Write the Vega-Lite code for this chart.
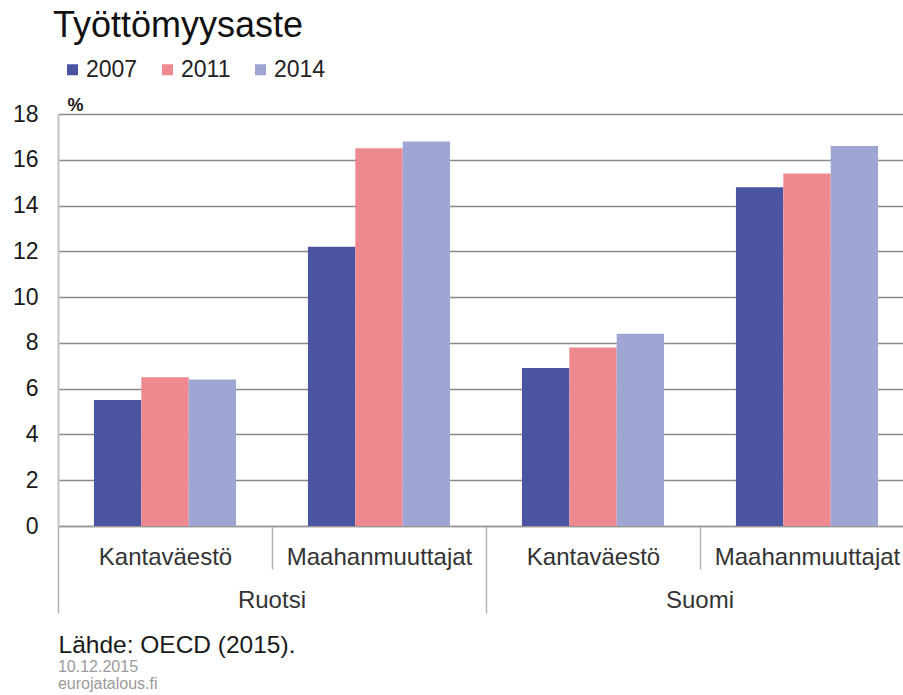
{
  "$schema": "https://vega.github.io/schema/vega-lite/v6.json",
  "width": 845,
  "height": 412,
  "autosize": {"type": "none"},
  "padding": {"left": 58, "top": 114, "right": 0, "bottom": 169},
  "background": "white",
  "title": {
    "text": "Työttömyysaste",
    "anchor": "start",
    "frame": "group",
    "fontSize": 36,
    "fontWeight": "normal",
    "color": "#111111",
    "font": "Liberation Sans",
    "dx": -5,
    "offset": 13
  },
  "config": {
    "font": "Liberation Sans",
    "view": {"stroke": null}
  },
  "encoding": {
    "x": {
      "field": "key",
      "type": "nominal",
      "scale": {
        "domain": ["Ruotsi|Kantaväestö", "Ruotsi|Maahanmuuttajat", "Suomi|Kantaväestö", "Suomi|Maahanmuuttajat"],
        "range": [0, 856],
        "paddingInner": 0.336,
        "paddingOuter": 0.168
      },
      "axis": {
        "title": "Lähde: OECD (2015).",
        "titleX": 0,
        "titleY": 126,
        "titleAnchor": "start",
        "titleAlign": "left",
        "titleBaseline": "alphabetic",
        "titleFontSize": 24.5,
        "titleFontWeight": "normal",
        "titleColor": "#1a1a1a",
        "labelExpr": "split(datum.label, '|')[1]",
        "labelAngle": 0,
        "labelFontSize": 24,
        "labelLimit": 400,
        "labelColor": "#333333",
        "labelBaseline": "alphabetic",
        "labelPadding": {"condition": {"test": "indexof(datum.value, 'Kantav') >= 0", "value": -49}, "value": -5},
        "tickSize": {"condition": {"test": "indexof(datum.value, 'Kantav') >= 0", "value": 87}, "value": 43},
        "tickColor": "#b4b4b4",
        "tickWidth": 1.5,
        "tickOffset": -107,
        "labelOffset": 107,
        "domainColor": "#9a9a9a",
        "domainWidth": 1.5,
        "grid": false
      }
    }
  },
  "layer": [
    {
      "data": {
        "values": [
          {"maa": "Ruotsi", "ryhma": "Kantaväestö", "key": "Ruotsi|Kantaväestö", "vuosi": "2007", "arvo": 5.5},
          {"maa": "Ruotsi", "ryhma": "Kantaväestö", "key": "Ruotsi|Kantaväestö", "vuosi": "2011", "arvo": 6.5},
          {"maa": "Ruotsi", "ryhma": "Kantaväestö", "key": "Ruotsi|Kantaväestö", "vuosi": "2014", "arvo": 6.4},
          {"maa": "Ruotsi", "ryhma": "Maahanmuuttajat", "key": "Ruotsi|Maahanmuuttajat", "vuosi": "2007", "arvo": 12.2},
          {"maa": "Ruotsi", "ryhma": "Maahanmuuttajat", "key": "Ruotsi|Maahanmuuttajat", "vuosi": "2011", "arvo": 16.5},
          {"maa": "Ruotsi", "ryhma": "Maahanmuuttajat", "key": "Ruotsi|Maahanmuuttajat", "vuosi": "2014", "arvo": 16.8},
          {"maa": "Suomi", "ryhma": "Kantaväestö", "key": "Suomi|Kantaväestö", "vuosi": "2007", "arvo": 6.9},
          {"maa": "Suomi", "ryhma": "Kantaväestö", "key": "Suomi|Kantaväestö", "vuosi": "2011", "arvo": 7.8},
          {"maa": "Suomi", "ryhma": "Kantaväestö", "key": "Suomi|Kantaväestö", "vuosi": "2014", "arvo": 8.4},
          {"maa": "Suomi", "ryhma": "Maahanmuuttajat", "key": "Suomi|Maahanmuuttajat", "vuosi": "2007", "arvo": 14.8},
          {"maa": "Suomi", "ryhma": "Maahanmuuttajat", "key": "Suomi|Maahanmuuttajat", "vuosi": "2011", "arvo": 15.4},
          {"maa": "Suomi", "ryhma": "Maahanmuuttajat", "key": "Suomi|Maahanmuuttajat", "vuosi": "2014", "arvo": 16.6}
        ]
      },
      "mark": {"type": "bar"},
      "encoding": {
        "xOffset": {
          "field": "vuosi",
          "type": "nominal",
          "scale": {"paddingInner": 0, "paddingOuter": 0}
        },
        "y": {
          "field": "arvo",
          "type": "quantitative",
          "scale": {"domain": [0, 18]},
          "axis": {
            "title": "%",
            "titleAngle": 0,
            "titleX": 9,
            "titleY": -4,
            "titleAlign": "left",
            "titleBaseline": "alphabetic",
            "titleFontSize": 18,
            "titleFontWeight": "bold",
            "titleColor": "#1a1a1a",
            "values": [0, 2, 4, 6, 8, 10, 12, 14, 16, 18],
            "ticks": false,
            "labelPadding": 20,
            "labelFontSize": 23,
            "labelColor": "#1a1a1a",
            "domainColor": "#c4c4c4",
            "domainWidth": 2,
            "gridColor": "#8a8a8a",
            "gridWidth": 1.5
          }
        },
        "color": {
          "field": "vuosi",
          "type": "nominal",
          "scale": {
            "domain": ["2007", "2011", "2014"],
            "range": ["#4b54a1", "#ee8990", "#a0a6d4"]
          },
          "legend": {
            "title": null,
            "orient": "none",
            "legendX": 3,
            "legendY": -56,
            "direction": "horizontal",
            "symbolType": "square",
            "symbolSize": 121,
            "symbolStrokeWidth": 0,
            "symbolOpacity": 1,
            "labelFontSize": 23,
            "labelColor": "#222222",
            "labelOffset": 2,
            "columnPadding": 18
          }
        }
      }
    },
    {
      "data": {
        "values": [
          {"maa": "Ruotsi", "key": "Ruotsi|Maahanmuuttajat"},
          {"maa": "Suomi", "key": "Suomi|Maahanmuuttajat"}
        ]
      },
      "mark": {
        "type": "text",
        "fontSize": 24,
        "color": "#333333",
        "align": "center",
        "baseline": "alphabetic",
        "dx": -36,
        "dy": 82
      },
      "encoding": {
        "x": {"field": "key", "type": "nominal", "bandPosition": 0},
        "y": {"datum": 0, "type": "quantitative"},
        "text": {"field": "maa"}
      }
    },
    {
      "data": {
        "values": [
          {"huom": "10.12.2015\neurojatalous.fi", "key": "Ruotsi|Kantaväestö"}
        ]
      },
      "mark": {
        "type": "text",
        "fontSize": 16,
        "color": "#9a9a9a",
        "align": "left",
        "baseline": "alphabetic",
        "dx": -36,
        "dy": 146,
        "lineBreak": "\n",
        "lineHeight": 17
      },
      "encoding": {
        "x": {"field": "key", "type": "nominal", "bandPosition": 0},
        "y": {"datum": 0, "type": "quantitative"},
        "text": {"field": "huom"}
      }
    }
  ]
}
